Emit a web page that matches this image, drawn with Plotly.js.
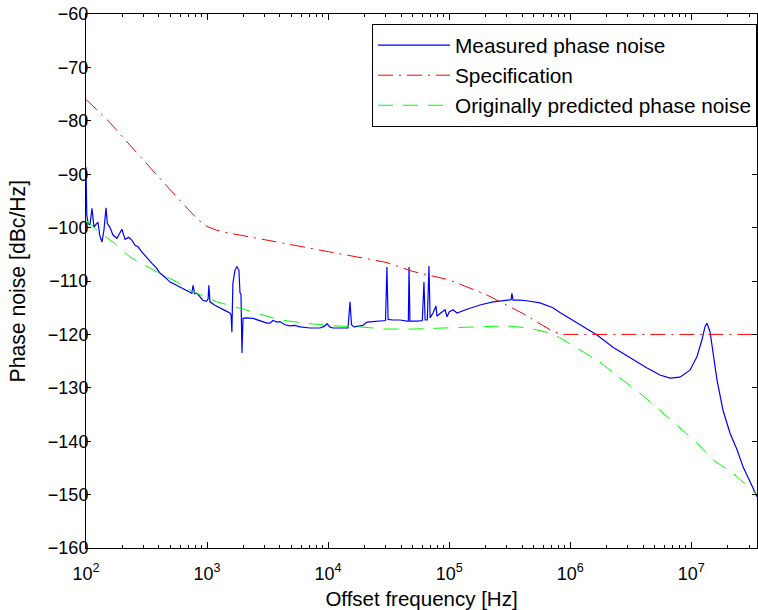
<!DOCTYPE html>
<html>
<head>
<meta charset="utf-8">
<script src="https://cdn.plot.ly/plotly-3.0.1.min.js"></script>
<style>html,body{margin:0;padding:0;background:#fff;}#chart{width:758px;height:610px;}</style>
</head>
<body>
<div id="chart"></div>
<script>
// Measured phase noise (Hz, dBc/Hz)
const measuredFreq = [100,101.5,104,107.9,112,116.4,121,125.6,130,135.6,140.8,146.3,150,157.9,167,180,198,210,225,240,254,269,290,319,351,380,408,450,495,540,597,650,723,750,766,790,826,870,923,990,1020,1035,1057,1150,1278,1400,1545,1580,1604,1634,1700,1763,1834,1870,1906,1943,1981,2100,2393,2740,3124,3310,3500,3781,4000,4400,4840,5300,5860,7080,8570,9300,9800,10300,10960,13270,14600,15170,15600,16370,19400,20960,26800,29800,30600,31300,34400,39300,44800,46000,46600,47400,54200,60000,61900,63300,66000,68100,69600,73500,77800,79300,85000,92400,96000,100000,107600,116100,140400,180000,230000,300000,325000,330000,337000,380000,439000,563000,720000,822000,1205000,1665000,2255000,3120000,4310000,5510000,6670000,8060000,9750000,11130000,12250000,13000000,13480000,14280000,15110000,16300000,18280000,20900000,23900000,26750000,30600000,34900000];
const measuredDb = [-88.7,-97.6,-99.2,-99.5,-96.4,-99.9,-99.4,-99.0,-101.5,-102.7,-100.4,-96.3,-99.2,-100.0,-101.4,-102.0,-100.3,-102.2,-101.8,-102.4,-103.3,-103.6,-104.6,-105.7,-106.7,-107.5,-108.5,-109.3,-110.2,-110.6,-111.1,-111.5,-112.1,-112.3,-110.8,-112.4,-112.3,-113.0,-113.6,-113.8,-113.4,-110.8,-113.9,-114.5,-115.1,-115.5,-116.0,-116.4,-119.6,-110.5,-108.0,-107.3,-108.0,-112.2,-112.5,-123.5,-117.0,-116.9,-117.0,-117.5,-117.9,-117.9,-117.4,-117.7,-117.6,-118.2,-118.4,-118.3,-118.6,-118.8,-118.8,-118.5,-118.0,-118.6,-118.8,-118.8,-118.8,-113.9,-118.2,-118.6,-118.3,-117.7,-117.5,-117.4,-107.4,-117.2,-117.3,-117.3,-117.5,-117.5,-107.4,-117.5,-117.5,-117.4,-110.2,-117.3,-117.3,-107.2,-116.9,-116.0,-114.7,-116.6,-116.0,-115.4,-116.7,-115.8,-115.4,-116.0,-115.3,-114.5,-113.9,-113.6,-113.5,-112.3,-113.6,-113.6,-113.7,-114.1,-115.0,-115.9,-118.2,-120.1,-122.4,-124.4,-126.3,-127.6,-128.2,-128.0,-126.7,-124.2,-121.0,-118.5,-117.9,-119.5,-123.5,-128.5,-134.2,-138.5,-141.6,-144.8,-147.6,-150.4];

// Specification
const specFreq = [100,150,200,300,400,500,700,850,1000,1200,1500,2000,4000,10000,30000,50000,100000,200000,400000,700000,850000,1000000,34900000];
const specDb = [-76,-79.8,-83,-87.5,-90.5,-93,-96.6,-98.6,-99.8,-100.5,-101.0,-101.5,-102.8,-104.5,-106.5,-108.2,-109.8,-112.5,-116,-119.3,-120,-120,-120];

// Originally predicted phase noise
const predFreq = [100,130,167,231,386,565,766,1208,1871,2740,4000,7080,11400,18300,30000,50000,100000,200000,300000,450000,640000,820000,1205000,1760000,2580000,3770000,5500000,7600000,11100000,15100000,22100000,31700000,34900000];
const predDb = [-98.6,-101,-102.7,-105.5,-108.3,-110.2,-112,-113.9,-115.1,-116.2,-117.3,-118.0,-118.4,-118.6,-119.0,-119.0,-118.8,-118.5,-118.4,-118.8,-119.6,-120.6,-122.9,-125.2,-128.2,-131.0,-134.2,-137.0,-140.3,-143.5,-146.0,-149.1,-150.0];

const seriesNames = ['Measured phase noise','Specification','Originally predicted phase noise'];
const xTickVals = [1e2,1e3,1e4,1e5,1e6,1e7];
const xTickText = ['10<sup>2</sup>','10<sup>3</sup>','10<sup>4</sup>','10<sup>5</sup>','10<sup>6</sup>','10<sup>7</sup>'];
const xTitle = 'Offset frequency [Hz]';
const yTitle = 'Phase noise [dBc/Hz]';

const minorVals = [];
for (let e = 2; e <= 7; e++) for (let m = 2; m <= 9; m++) minorVals.push(m * Math.pow(10, e));

const FONT = 'Liberation Sans, Arial, Helvetica, sans-serif';
const XRANGE = [2, Math.log10(3.49e7)];

const traces = [
  {x: measuredFreq, y: measuredDb, name: seriesNames[0], type: 'scatter', mode: 'lines',
   line: {color: '#0000ff', width: 1.2}},
  {x: specFreq, y: specDb, name: seriesNames[1], type: 'scatter', mode: 'lines',
   line: {color: '#ff0000', width: 1, dash: '15px,6px,2px,6px'}},
  {x: predFreq, y: predDb, name: seriesNames[2], type: 'scatter', mode: 'lines',
   line: {color: '#00ff00', width: 1, dash: '15px,10px'}},
  {x: [], y: [], xaxis: 'x2', yaxis: 'y', type: 'scatter', mode: 'lines', showlegend: false, hoverinfo: 'skip'}
];

const layout = {
  width: 758, height: 610,
  margin: {l: 86, r: 1, t: 14, b: 62},
  paper_bgcolor: '#ffffff', plot_bgcolor: '#ffffff',
  font: {family: FONT, size: 18, color: '#000'},
  showlegend: true,
  legend: {x: 1, xanchor: 'right', y: 0.981, yanchor: 'top',
    bgcolor: '#ffffff', bordercolor: '#000', borderwidth: 1,
    font: {family: FONT, size: 20.8, color: '#000'}, itemwidth: 72, tracegroupgap: 0},
  xaxis: {type: 'log', range: XRANGE,
    tickmode: 'array', tickvals: xTickVals, ticktext: xTickText,
    ticks: 'inside', ticklen: 6, tickcolor: '#000', tickwidth: 1,
    ticklabelstandoff: 9,
    showline: true, linecolor: '#000', linewidth: 1, mirror: 'ticks',
    showgrid: false, zeroline: false,
    tickfont: {family: FONT, size: 18},
    title: {text: xTitle, font: {family: FONT, size: 20.5}, standoff: 12}},
  xaxis2: {type: 'log', range: XRANGE, overlaying: 'x', anchor: 'y',
    tickmode: 'array', tickvals: minorVals, showticklabels: false,
    ticks: 'inside', ticklen: 3, tickcolor: '#000', tickwidth: 1,
    showline: false, mirror: 'ticks', showgrid: false, zeroline: false},
  yaxis: {range: [-160, -60], dtick: 10, tick0: -160,
    ticks: 'inside', ticklen: 5, tickcolor: '#000', tickwidth: 1,
    ticklabelstandoff: -7,
    showline: true, linecolor: '#000', linewidth: 1, mirror: 'ticks',
    showgrid: false, zeroline: false,
    tickfont: {family: FONT, size: 18}},
  annotations: [
    {text: yTitle, xref: 'paper', yref: 'paper', x: (17.5 - 86) / 671, y: 0.5,
     xanchor: 'center', yanchor: 'middle', textangle: -90, showarrow: false,
     font: {family: FONT, size: 21.2, color: '#000'}}
  ]
};

Plotly.newPlot('chart', traces, layout, {displayModeBar: false, staticPlot: true});
</script>
</body>
</html>
